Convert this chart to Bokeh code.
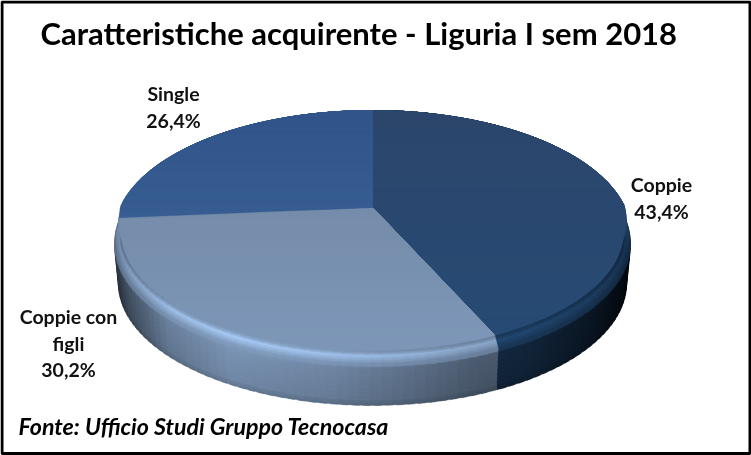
import math
from bokeh.plotting import figure
from bokeh.core.properties import value
from bokeh.embed import file_html
from bokeh.resources import INLINE

categories = ["Coppie", "Coppie con figli", "Single"]
shares = [43.4, 30.2, 26.4]
share_labels = ["43,4%", "30,2%", "26,4%"]
title_text = "Caratteristiche  acquirente - Liguria I sem 2018"
source_text = "Fonte: Ufficio Studi Gruppo Tecnocasa"

CX, CY, RX, RY = 372.0, 232.0, 258.0, 122.0
AX, AY = 372.0, 207.0
K, S, R = 0.198, 116.2, 253.0
DEPTH = 51.0
RIM = 0.972

top_colors = [("#2c466b", "#274a74"), ("#6f859f", "#7d96b7"), ("#31558a", "#3e669e")]
side_colors = ["#1f4167", "#7d97b8", "#3e669e"]


def lerp(a, b, t):
    return a + (b - a) * t


def clip01(t):
    return max(0.0, min(1.0, t))


def rgb(h):
    return [int(h[i:i + 2], 16) for i in (1, 3, 5)]


def mix(h1, h2, t):
    a, b = rgb(h1), rgb(h2)
    return "#%02x%02x%02x" % tuple(int(round(lerp(a[i], b[i], t))) for i in range(3))


def scale(h, f):
    return "#%02x%02x%02x" % tuple(min(255, max(0, int(round(c * f)))) for c in rgb(h))


def pt(theta, r, z=0.0, shrink=1.0):
    u, v = math.sin(theta), -math.cos(theta)
    w = 1 - K * v
    dx, dy = R * u / w, S * v / w
    ox, oy = AX - CX, AY - CY
    a = (dx / RX) ** 2 + (dy / RY) ** 2
    b = 2 * (dx * ox / RX ** 2 + dy * oy / RY ** 2)
    c = (ox / RX) ** 2 + (oy / RY) ** 2 - 1
    t = (-b + math.sqrt(b * b - 4 * a * c)) / (2 * a)
    f = clip01((v + 0.55) / 0.5)
    x = AX + r * t * dx
    y = AY + r * t * dy + z * f
    return CX + (x - CX) * shrink, y


def table(tab, t):
    for (a, fa), (b, fb) in zip(tab, tab[1:]):
        if t <= b:
            return lerp(fa, fb, clip01((t - a) / (b - a)))
    return tab[-1][1]


SHADE = [(-1.0, 0.36), (-0.95, 0.55), (-0.8, 0.86), (-0.55, 1.0), (-0.15, 0.9),
         (0.1, 0.78), (0.4, 0.62), (0.6, 0.58), (0.85, 0.36), (1.0, 0.14)]
# brightness by depth fraction from the rim (0) to the bottom of the side (1)
BRIGHT = [(0.0, 1.0), (0.04, 1.1), (0.085, 1.33), (0.13, 1.22), (0.2, 1.04),
          (0.32, 0.98), (0.6, 0.94), (0.9, 0.9), (1.0, 0.8)]

total = sum(shares)
edges = [0.0]
for s in shares:
    edges.append(edges[-1] + s / total * 2 * math.pi)

xs, ys, cols = [], [], []


def face_color(i, y):
    return mix(top_colors[i][0], top_colors[i][1], clip01((y - 120) / 220))


fracs = [1.0, 0.96, 0.9, 0.82, 0.74, 0.66, 0.58, 0.5, 0.42, 0.35, 0.29, 0.24,
         0.2, 0.165, 0.135, 0.11, 0.085, 0.06, 0.04, 0.02]


def prof(fr):
    r = lerp(RIM, 1.0, clip01(fr / 0.2))
    shrink = lerp(1.0, 0.985, clip01((fr - 0.25) / 0.75))
    return r, DEPTH * fr, shrink


STEP = math.radians(2.0)
for fr in fracs:
    for i in range(3):
        a0, a1 = edges[i], edges[i + 1]
        n = max(2, int((a1 - a0) / STEP))
        for j in range(n):
            t0, t1 = lerp(a0, a1, j / n), lerp(a0, a1, (j + 1) / n)
            t1x = t1 + (0.0 if j == n - 1 else (t1 - t0) * 0.6)
            tm = (t0 + t1) / 2
            xm = pt(tm, 1.0)[0]
            v = -math.cos(tm)
            f = table(SHADE, (xm - CX) / RX)
            br = table(BRIGHT, fr)
            if br > 1.0:
                f = lerp(f, 1.0, 0.55)
            col = scale(side_colors[i], f * br)
            if fr < 0.2:
                col = mix(face_color(i, pt(tm, 1.0)[1]), col, clip01((v + 0.02) / 0.3))
            r, z, sh = prof(fr)
            ax, ay = pt(t0, r, z, sh)
            bx, by = pt(t1x, r, z, sh)
            cx, cy = pt(t1x, RIM - 0.01)
            dx, dy = pt(t0, RIM - 0.01)
            xs.append([ax, bx, cx, dx])
            ys.append([ay, by, cy, dy])
            cols.append(col)


def clip_above(poly, ymax):
    out = []
    for (x0, y0), (x1, y1) in zip(poly, poly[1:] + poly[:1]):
        if y0 <= ymax:
            out.append((x0, y0))
        if (y0 <= ymax) != (y1 <= ymax):
            t = (ymax - y0) / (y1 - y0)
            out.append((lerp(x0, x1, t), ymax))
    return out


bands = 14
for i in range(3):
    a0, a1 = edges[i], edges[i + 1]
    n = max(4, int((a1 - a0) / math.radians(1.5)))
    poly = [(AX, AY)]
    for j in range(n + 1):
        t = lerp(a0, a1, j / n)
        v = -math.cos(t)
        poly.append(pt(t, lerp(1.0, RIM, clip01((v + 0.02) / 0.3))))
    ymin, ymax = min(q[1] for q in poly), max(q[1] for q in poly)
    for b in range(bands):
        lim = lerp(ymax, ymin, b / bands)
        part = clip_above(poly, lim)
        if len(part) >= 3:
            xs.append([q[0] for q in part])
            ys.append([q[1] for q in part])
            cols.append(face_color(i, lim))

p = figure(width=751, height=455, x_range=(0, 751), y_range=(455, 0),
           output_backend="svg", toolbar_location=None, min_border=0,
           x_axis_location=None, y_axis_location=None,
           background_fill_color="white", border_fill_color="white",
           outline_line_color=None,
           styles={"position": "fixed", "left": "0px", "top": "0px"})
p.grid.visible = False

p.patches(xs, ys, fill_color=cols, line_color=cols, line_width=0.3)

font = value("Lato")
p.text([362], [32], text=[title_text], text_font=font, text_font_style="bold",
       text_font_size="31px", text_align="center", text_baseline="middle", text_color="#000000")
labels = [
    (661, [categories[0], share_labels[0]], 184),
    (68, ["Coppie con", "figli", share_labels[1]], 316),
    (173, [categories[2], share_labels[2]], 93),
]
for x, lines, y0 in labels:
    for k, line in enumerate(lines):
        p.text([x], [y0 + k * 26.5], text=[line], text_font=font, text_font_style="bold",
               text_font_size="19.5px", text_align="center", text_baseline="middle", text_color="#111111")
p.text([18], [425], text=[source_text], text_font=font, text_font_style="bold italic",
       text_font_size="23.2px", text_align="left", text_baseline="middle", text_color="#000000")

p.quad(left=[1.5], right=[749.5], top=[1.5], bottom=[453], fill_color=None,
       line_color="#000000", line_width=3)

open("out.html", "w").write(file_html(p, INLINE))
